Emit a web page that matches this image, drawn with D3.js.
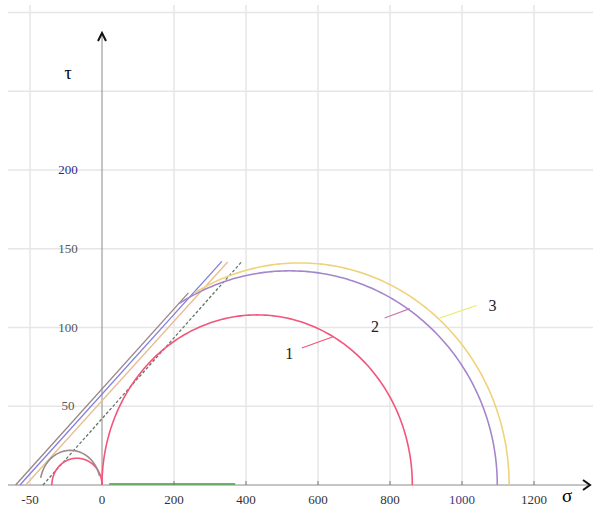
<!DOCTYPE html>
<html>
<head>
<meta charset="utf-8">
<script src="https://cdn.jsdelivr.net/npm/d3@7"></script>
<style>
  body { margin: 0; background: #fff; }
  svg text { font-family: "Liberation Serif", "Times New Roman", Times, serif; }
</style>
</head>
<body>
<div id="graph"></div>
<script>
// tick values and labels
const xTicks = [-50, 0, 200, 400, 600, 800, 1000, 1200]
const yTicks = [50, 100, 150, 200]
const yGrid = [0, 50, 100, 150, 200, 250, 300]

// Mohr circles: center sigma, radius along sigma, peak tau, arc range (deg)
const circleLabels = ["1", "2", "3", "s1", "s2"]
const circleCenter = [431, 521, 549, -17.4, -22]
const circleRadius = [431, 577, 582, 17.4, 21]
const circlePeak = [108, 136, 141, 17, 22]
const circleFrom = [0, 0, 0, 0, 15]
const circleTo = [180, 122, 120, 180, 168]
const circleColor = ["#f2557a", "#a486cc", "#f0d27a", "#f2557a", "#9a8c88"]

// envelope lines [sigma, tau]
const lineStart = [[-57, 0], [-53, 0], [-60, 0], [-41, 0]]
const lineEnd = [[333, 142], [349, 141.6], [240, 122], [389, 142]]
const lineColor = ["#7f7fe0", "#e9bd8e", "#9a8484", "#607868"]
const lineDash = [null, null, null, "3,2"]

// label leaders
const labelText = ["1", "2", "3"]
const labelAt = [[520, 84], [758, 101], [1085, 114]]
const leaderFrom = [[555, 87], [785, 106], [938, 106]]
const leaderTo = [[640, 94], [855, 112], [1040, 114]]
const leaderColor = ["#f2557a", "#c87ab0", "#e8ec60"]

const width = 593
const height = 509

const svg = d3.select("#graph").append("svg")
    .attr("width", width)
    .attr("height", height)

const x = d3.scaleLinear()
    .domain([-50, 0, 1200])
    .range([30, 102, 534])

const y = d3.scaleLinear()
    .domain([0, 300])
    .range([485, 12.5])

// Grid
svg.append("g")
    .attr("stroke", "#e6e6e6")
    .attr("stroke-width", 1.5)
    .selectAll()
    .data(yGrid.slice(1))
    .join("line")
    .attr("x1", 8)
    .attr("x2", width)
    .attr("y1", d => y(d))
    .attr("y2", d => y(d))

svg.append("g")
    .attr("stroke", "#e6e6e6")
    .attr("stroke-width", 1.5)
    .selectAll()
    .data(xTicks.filter(d => d !== 0))
    .join("line")
    .attr("x1", d => x(d))
    .attr("x2", d => x(d))
    .attr("y1", 5)
    .attr("y2", y(0))

// Green segment on the axis
svg.append("line")
    .attr("stroke", "#4cc94c")
    .attr("stroke-width", 2)
    .attr("x1", x(20))
    .attr("x2", x(370))
    .attr("y1", y(0) - 1)
    .attr("y2", y(0) - 1)

// Axes
svg.append("line")
    .attr("stroke", "#8a8a8a")
    .attr("x1", 8)
    .attr("x2", 588)
    .attr("y1", y(0))
    .attr("y2", y(0))

svg.append("path")
    .attr("fill", "none")
    .attr("stroke", "#111")
    .attr("stroke-width", 2)
    .attr("d", `M583,${y(0) - 5} L590,${y(0)} L583,${y(0) + 5}`)

svg.append("line")
    .attr("stroke", "#8a8a8a")
    .attr("x1", x(0))
    .attr("x2", x(0))
    .attr("y1", y(0))
    .attr("y2", 34)

svg.append("path")
    .attr("fill", "none")
    .attr("stroke", "#111")
    .attr("stroke-width", 2)
    .attr("d", `M${x(0) - 4},41 L${x(0)},33 L${x(0) + 4},41`)

// Tick marks
svg.append("g")
    .attr("stroke", "#777")
    .selectAll()
    .data(xTicks.filter(d => d > 0))
    .join("line")
    .attr("x1", d => x(d))
    .attr("x2", d => x(d))
    .attr("y1", y(0) - 4)
    .attr("y2", y(0))

// Tick labels
svg.append("g")
    .attr("font-size", 13)
    .attr("text-anchor", "middle")
    .selectAll()
    .data(xTicks)
    .join("text")
    .attr("x", d => x(d))
    .attr("y", 504)
    .attr("fill", d => d === 1000 ? "#3a3a78" : "#333")
    .text(d => d)

svg.append("g")
    .attr("font-size", 13)
    .attr("text-anchor", "middle")
    .selectAll()
    .data(yTicks)
    .join("text")
    .attr("x", 68)
    .attr("y", d => y(d) + 4)
    .attr("fill", d => d === 200 ? "#2c2c80" : "#555")
    .text(d => d)

svg.append("text")
    .attr("font-size", 18)
    .attr("x", 68)
    .attr("y", 79)
    .attr("text-anchor", "middle")
    .text("τ")

svg.append("text")
    .attr("font-size", 19)
    .attr("x", 567)
    .attr("y", 502)
    .attr("text-anchor", "middle")
    .text("σ")

// Envelope lines
const line = d3.line().x(d => x(d[0])).y(d => y(d[1]))

svg.append("g")
    .attr("fill", "none")
    .attr("stroke-width", 1.3)
    .selectAll()
    .data(lineStart.map((s, i) => i))
    .join("path")
    .attr("stroke", i => lineColor[i])
    .attr("stroke-dasharray", i => lineDash[i])
    .attr("d", i => line([lineStart[i], lineEnd[i]]))

// Circles
svg.append("g")
    .attr("fill", "none")
    .attr("stroke-width", 1.6)
    .selectAll()
    .data(circleLabels.map((c, i) => i))
    .join("path")
    .attr("stroke", i => circleColor[i])
    .attr("d", i => line(d3.range(circleFrom[i], circleTo[i] + 0.5, 1).map(a => {
        const t = a * Math.PI / 180
        return [circleCenter[i] + circleRadius[i] * Math.cos(t), circlePeak[i] * Math.sin(t)]
    })))

// Labels
svg.append("g")
    .attr("stroke-width", 1.2)
    .selectAll()
    .data(labelText.map((c, i) => i))
    .join("line")
    .attr("stroke", i => leaderColor[i])
    .attr("x1", i => x(leaderFrom[i][0]))
    .attr("y1", i => y(leaderFrom[i][1]))
    .attr("x2", i => x(leaderTo[i][0]))
    .attr("y2", i => y(leaderTo[i][1]))

svg.append("g")
    .attr("font-size", 16)
    .attr("text-anchor", "middle")
    .selectAll()
    .data(labelText.map((c, i) => i))
    .join("text")
    .attr("x", i => x(labelAt[i][0]))
    .attr("y", i => y(labelAt[i][1]) + 6)
    .attr("fill", "#222")
    .text(i => labelText[i])
</script>
</body>
</html>
